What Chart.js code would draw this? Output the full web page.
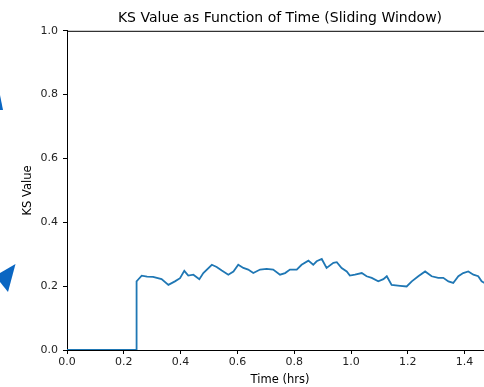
<!DOCTYPE html>
<html>
<head>
<meta charset="utf-8">
<script src="https://cdn.jsdelivr.net/npm/chart.js@4"></script>
<style>
  html, body { margin: 0; padding: 0; overflow: hidden; background: #fff; }
  #wrap { position: relative; width: 500px; height: 387px; }
</style>
</head>
<body>
<div id="wrap"><canvas id="ks"></canvas></div>
<script>
// time in hours and KS value
let times = [0, 0.245, 0.245, 0.25, 0.263, 0.282, 0.303, 0.333, 0.357, 0.380, 0.398,
    0.413, 0.427, 0.445, 0.466, 0.480, 0.510, 0.527, 0.545, 0.568, 0.586,
    0.603, 0.621, 0.638, 0.656, 0.680, 0.703, 0.726, 0.750, 0.768, 0.785,
    0.809, 0.826, 0.850, 0.867, 0.879, 0.897, 0.914, 0.938, 0.950, 0.967,
    0.985, 0.996, 1.014, 1.038, 1.055, 1.073, 1.096, 1.114, 1.126, 1.143,
    1.173, 1.196, 1.214, 1.237, 1.261, 1.284, 1.307, 1.325, 1.343, 1.360,
    1.378, 1.395, 1.413, 1.431, 1.448, 1.460, 1.470];
let ksValues = [0, 0, 0.215, 0.220, 0.233, 0.230, 0.229, 0.222, 0.204, 0.215, 0.225,
    0.248, 0.233, 0.236, 0.222, 0.241, 0.267, 0.260, 0.249, 0.236, 0.246,
    0.267, 0.257, 0.252, 0.241, 0.252, 0.254, 0.252, 0.236, 0.241, 0.252,
    0.252, 0.267, 0.280, 0.267, 0.278, 0.285, 0.257, 0.273, 0.275, 0.257,
    0.246, 0.233, 0.236, 0.241, 0.231, 0.226, 0.215, 0.222, 0.231, 0.204,
    0.201, 0.199, 0.215, 0.231, 0.246, 0.231, 0.226, 0.226, 0.215, 0.210,
    0.231, 0.241, 0.246, 0.236, 0.231, 0.215, 0.210];
let xTicks = [0, 0.2, 0.4, 0.6, 0.8, 1.0, 1.2, 1.4];
let yTicks = [0, 0.2, 0.4, 0.6, 0.8, 1.0];

let points = times.map(function (t, i) { return {x: t, y: ksValues[i]}; });

// top spine + the two blue cursor shapes at the left edge of the screenshot
let extras = {
    id: 'extras',
    afterDraw: function (chart) {
        let c = chart.ctx, a = chart.chartArea;
        c.save();
        c.strokeStyle = '#000';
        c.lineWidth = 1;
        c.beginPath();
        c.moveTo(a.left, a.top + 0.5);
        c.lineTo(a.right, a.top + 0.5);
        c.stroke();
        c.fillStyle = '#0a66c2';
        c.beginPath();
        c.moveTo(0, 95); c.lineTo(3, 110); c.lineTo(0, 110);
        c.fill();
        c.beginPath();
        c.moveTo(15.5, 264); c.lineTo(8, 292); c.lineTo(0, 282); c.lineTo(0, 273);
        c.fill();
        c.restore();
    }
};

let tickFont = {family: "'DejaVu Sans', sans-serif", size: 11};
let labelFont = {family: "'DejaVu Sans', sans-serif", size: 11.5};

new Chart(document.getElementById('ks').getContext('2d'), {
    type: 'scatter',
    data: {
        datasets: [{
            data: points,
            showLine: true,
            borderColor: '#1f77b4',
            backgroundColor: '#1f77b4',
            borderWidth: 1.8,
            pointRadius: 0,
            tension: 0
        }]
    },
    options: {
        responsive: true,
        maintainAspectRatio: false,
        animation: false,
        layout: {padding: {left: 0, right: 7, top: 0, bottom: 0}},
        plugins: {
            legend: {display: false},
            tooltip: {enabled: false},
            title: {
                display: true,
                text: 'KS Value as Function of Time (Sliding Window)',
                fullSize: false,
                color: '#000',
                font: {family: "'DejaVu Sans', sans-serif", size: 14, weight: 'normal'},
                padding: {top: 10, bottom: 4}
            }
        },
        scales: {
            x: {
                type: 'linear',
                min: 0,
                max: 1.5,
                afterBuildTicks: function (s) { s.ticks = xTicks.map(function (v) { return {value: v}; }); },
                afterFit: function (s) { s.height = 37; },
                grid: {display: true, drawOnChartArea: false, drawTicks: true, tickLength: 4, color: '#000'},
                border: {display: true, color: '#000', width: 1},
                ticks: {
                    color: '#222', font: tickFont, padding: 2, maxRotation: 0,
                    callback: function (v) { return v.toFixed(1); }
                },
                title: {display: true, text: 'Time (hrs)', color: '#000', font: labelFont, padding: {top: 0, bottom: 0}}
            },
            y: {
                min: 0,
                max: 1,
                afterBuildTicks: function (s) { s.ticks = yTicks.map(function (v) { return {value: v}; }); },
                afterFit: function (s) { s.width = 67; },
                grid: {display: true, drawOnChartArea: false, drawTicks: true, tickLength: 4, color: '#000'},
                border: {display: true, color: '#000', width: 1},
                ticks: {
                    color: '#222', font: tickFont, padding: 5,
                    callback: function (v) { return v.toFixed(1); }
                },
                title: {display: true, text: 'KS Value', color: '#000', font: labelFont, padding: {top: 21, bottom: 0}}
            }
        }
    },
    plugins: [extras]
});
</script>
</body>
</html>
